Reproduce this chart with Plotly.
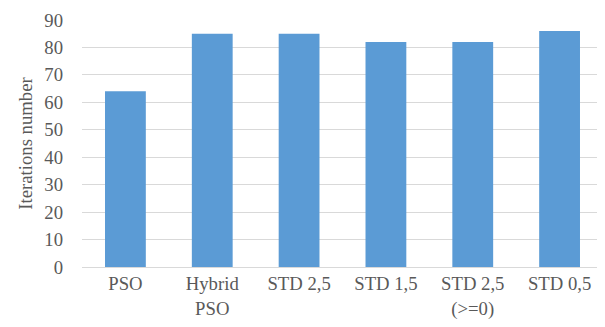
import plotly.graph_objects as go

categories = ["PSO", "Hybrid<br>PSO", "STD 2,5", "STD 1,5", "STD 2,5<br>(>=0)", "STD 0,5"]
values = [64, 85, 85, 82, 82, 86]
y_ticks = [0, 10, 20, 30, 40, 50, 60, 70, 80, 90]

fig = go.Figure(go.Bar(x=categories, y=values, marker=dict(color="#5B9BD5", line=dict(width=0))))

font = dict(family="Liberation Serif, Times New Roman, serif", size=18.7, color="#595959")
fig.update_layout(
    width=597, height=319,
    margin=dict(l=74, r=2, t=12, b=60, autoexpand=False),
    paper_bgcolor="white", plot_bgcolor="white",
    bargap=0.53,
    showlegend=False,
    font=font,
)
fig.update_xaxes(showgrid=False, showline=True, linecolor="#D9D9D9", linewidth=1,
                 tickfont=font, ticks="", automargin=False)
fig.update_yaxes(range=[0, 90], tickvals=y_ticks, showgrid=True, gridcolor="#D9D9D9",
                 gridwidth=1, zeroline=False, showline=False, tickfont=font, ticks="",
                 ticklabelstandoff=18, automargin=False,
                 title=dict(text="Iterations number", font=dict(family=font["family"], size=18.7, color="#595959"), standoff=6))
fig.write_html("out.html")
